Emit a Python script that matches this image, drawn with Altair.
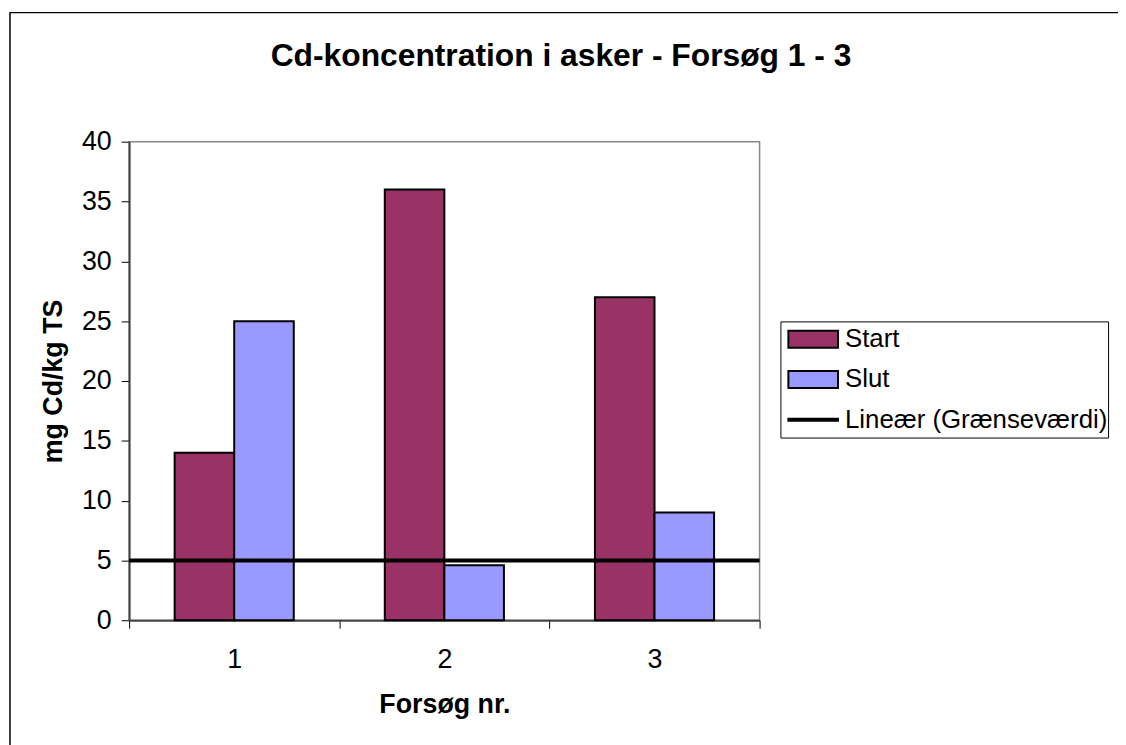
import altair as alt
import pandas as pd

# ---- data ----
forsog = ["1", "2", "3"]
start_vals = [14, 36, 27]
slut_vals = [25, 4.6, 9]
series = ["Start", "Slut", "Lineær (Grænseværdi)"]
series_colors = ["#993366", "#9999FF", "#000000"]
limit_vals = [5]
y_ticks = [0, 5, 10, 15, 20, 25, 30, 35, 40]
chart_title = ["Cd-koncentration i asker - Forsøg 1 - 3"]

rows = []
for f, a, b in zip(forsog, start_vals, slut_vals):
    rows.append({"forsog": f, "serie": series[0], "value": a})
    rows.append({"forsog": f, "serie": series[1], "value": b})
bars_df = pd.DataFrame(rows)
limit_df = pd.DataFrame({"value": limit_vals})
title_df = pd.DataFrame({"t": chart_title})

FONT = "Liberation Sans"
W, H = 635, 482

fill_scale = alt.Scale(domain=series, range=series_colors)
shape_scale = alt.Scale(
    domain=series,
    range=["M-1,-0.34H1V0.34H-1Z", "M-1,-0.34H1V0.34H-1Z", "M-1,-0.04H1V0.04H-1Z"],
)

legend = alt.Legend(
    title=None, orient="none", legendX=656, legendY=181,
    symbolSize=2500, symbolStrokeColor="black", symbolStrokeWidth=2,
    symbolOpacity=1, symbolFillColor="black", symbolOffset=7,
    labelFont=FONT, labelFontSize=26, labelColor="black", labelOffset=6,
    labelLimit=400, padding=0, strokeColor="black", fillColor="white",
    clipHeight=36, rowPadding=4.5,
)

border = alt.Chart(title_df).mark_rect(
    fillOpacity=0, stroke="black", strokeWidth=1.5
).encode(
    x=alt.value(-120), x2=alt.value(1100), y=alt.value(-130), y2=alt.value(700)
)

title = alt.Chart(title_df).mark_text(
    font=FONT, fontSize=32, fontWeight="bold", color="black",
    align="center", baseline="middle"
).encode(text="t:N", x=alt.value(435), y=alt.value(-86))

bars = alt.Chart(bars_df).mark_bar(stroke="black", strokeWidth=2).encode(
    x=alt.X(
        "forsog:N", sort=forsog,
        scale=alt.Scale(paddingInner=0, paddingOuter=0),
        axis=alt.Axis(
            title="Forsøg nr.", labelAngle=0, tickBand="extent", tickSize=8,
            labelPadding=19, titlePadding=19,
        ),
    ),
    xOffset=alt.XOffset(
        "serie:N", sort=series[:2],
        scale=alt.Scale(domain=series[:2], paddingInner=0, paddingOuter=0.764),
    ),
    y=alt.Y(
        "value:Q",
        scale=alt.Scale(domain=[0, 40], nice=False),
        axis=alt.Axis(
            title="mg Cd/kg TS", values=y_ticks, tickSize=8, labelPadding=10,
            titlePadding=14,
        ),
    ),
    fill=alt.Fill("serie:N", scale=fill_scale, legend=legend),
)

limit_rule = alt.Chart(limit_df).mark_rule(color="black", strokeWidth=4).encode(
    y=alt.Y("value:Q")
)

legend_src = alt.Chart(bars_df).transform_filter("false").mark_point(
    filled=True, opacity=1
).encode(
    x=alt.X("forsog:N", sort=forsog),
    y=alt.Y("value:Q"),
    shape=alt.Shape("serie:N", scale=shape_scale, legend=legend),
    fill=alt.Fill("serie:N", scale=fill_scale, legend=legend),
)

chart = alt.layer(border, bars, limit_rule, legend_src, title).properties(
    width=W, height=H,
    autosize=alt.AutoSizeParams(type="none"),
    padding={"left": 122, "top": 132, "right": 361, "bottom": 123},
).configure(
    background="white"
).configure_view(
    stroke="#888888", strokeWidth=1.5
).configure_axis(
    labelFont=FONT, labelFontSize=27, labelColor="black",
    titleFont=FONT, titleFontSize=27, titleFontWeight="bold", titleColor="black",
    tickColor="black", tickWidth=1, domainColor="#444444", domainWidth=2,
    grid=False,
)

chart.save("out.html", embed_options={"renderer": "svg", "actions": False})
